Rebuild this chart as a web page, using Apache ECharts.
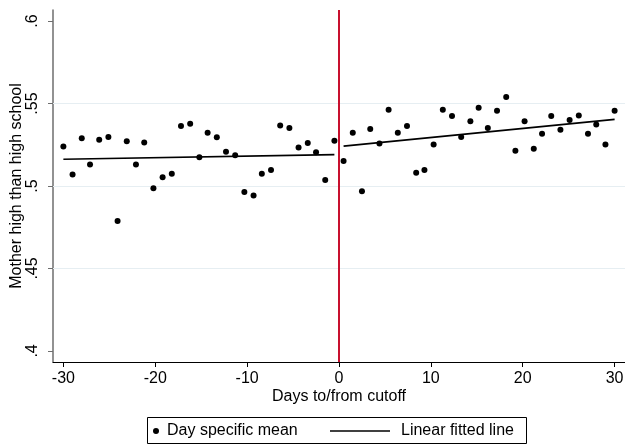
<!DOCTYPE html>
<html>
<head>
<meta charset="utf-8">
<script src="https://cdn.jsdelivr.net/npm/echarts@6/dist/echarts.min.js"></script>
<style>html,body{margin:0;padding:0;background:#fff;}#c{width:625px;height:448px;}</style>
</head>
<body>
<div id="c"></div>
<script>
// ---- data ----
const xLeft = [-30, -29, -28, -27.1, -26.1, -25.1, -24.1, -23.1, -22.1, -21.2, -20.2, -19.2, -18.2, -17.2, -16.2, -15.2, -14.3, -13.3, -12.3, -11.3, -10.3, -9.3, -8.4, -7.4, -6.4, -5.4, -4.4, -3.4, -2.5, -1.5, -0.5];
const yLeft = [0.524, 0.5069, 0.529, 0.513, 0.528, 0.5297, 0.4788, 0.5272, 0.513, 0.5263, 0.4986, 0.5053, 0.5075, 0.5363, 0.5378, 0.5174, 0.5323, 0.5295, 0.5208, 0.5186, 0.4964, 0.4942, 0.5075, 0.5097, 0.5367, 0.5351, 0.5234, 0.526, 0.5204, 0.5036, 0.5275];
const xRight = [0.5, 1.5, 2.5, 3.4, 4.4, 5.4, 6.4, 7.4, 8.4, 9.3, 10.3, 11.3, 12.3, 13.3, 14.3, 15.2, 16.2, 17.2, 18.2, 19.2, 20.2, 21.2, 22.1, 23.1, 24.1, 25.1, 26.1, 27.1, 28, 29, 30];
const yRight = [0.5151, 0.5323, 0.4968, 0.5345, 0.5257, 0.5462, 0.5323, 0.5363, 0.5081, 0.5097, 0.5252, 0.5462, 0.5424, 0.5297, 0.5392, 0.5474, 0.5351, 0.5456, 0.5539, 0.5214, 0.5392, 0.5226, 0.5317, 0.5424, 0.5341, 0.54, 0.5428, 0.5317, 0.5373, 0.5251, 0.5456];
const fitLeftX = [-30, -0.5];
const fitLeftY = [0.5162, 0.519];
const fitRightX = [0.5, 30];
const fitRightY = [0.5242, 0.5404];
const xTicks = [-30, -20, -10, 0, 10, 20, 30];
const yTicks = [0.4, 0.45, 0.5, 0.55, 0.6];
const yGrid = [0.45, 0.5, 0.55];
const cutoff = 0;
const seriesNames = ['Day specific mean', 'Linear fitted line'];
const xTitle = 'Days to/from cutoff';
const yTitle = 'Mother high than high school';

const FONT = "'Liberation Sans', Arial, sans-serif";
const scatterData = xLeft.map((x, i) => [x, yLeft[i]]).concat(xRight.map((x, i) => [x, yRight[i]]));
const zip = (a, b) => a.map((v, i) => [v, b[i]]);
const yLbl = v => String(+v.toFixed(2)).replace(/^0\./, '.');

const chart = echarts.init(document.getElementById('c'), null, {renderer: 'canvas'});
chart.setOption({
  animation: false,
  backgroundColor: '#fff',
  grid: {left: 53, top: 10, right: 0, bottom: 86, containLabel: false, outerBoundsMode: 'none'},
  xAxis: {
    type: 'value', min: -31.13, max: 31.13,
    name: xTitle, nameLocation: 'middle', nameGap: 27, nameMoveOverlap: false,
    nameTextStyle: {fontFamily: FONT, fontSize: 16, color: '#000'},
    axisLine: {show: true, onZero: false, lineStyle: {color: '#000', width: 1}},
    axisTick: {show: true, length: 5, customValues: xTicks, lineStyle: {color: '#000'}},
    axisLabel: {customValues: xTicks, margin: 9, fontFamily: FONT, fontSize: 16, color: '#000'},
    splitLine: {show: false}
  },
  yAxis: {
    type: 'value', min: 0.3933, max: 0.6067,
    name: yTitle, nameLocation: 'middle', nameGap: 28, nameRotate: 90, nameMoveOverlap: false,
    nameTextStyle: {fontFamily: FONT, fontSize: 16, color: '#000'},
    axisLine: {show: true, onZero: false, lineStyle: {color: '#6e6e6e', width: 1.5}},
    axisTick: {show: true, length: 5, customValues: yTicks, lineStyle: {color: '#6e6e6e'}},
    axisLabel: {customValues: yTicks, rotate: 90, margin: 12, fontFamily: FONT, fontSize: 16, color: '#000', formatter: yLbl},
    splitLine: {show: false}
  },
  legend: [
    {data: [seriesNames[0]], left: 153, top: 423, padding: 0, icon: 'circle', itemWidth: 6, itemHeight: 6, selectedMode: false,
     textStyle: {fontFamily: FONT, fontSize: 16, color: '#000', padding: [0, 0, 0, 3]}},
    {data: [seriesNames[1]], left: 330, top: 423, padding: 0, icon: 'rect', itemWidth: 60, itemHeight: 1.5, selectedMode: false,
     itemStyle: {color: '#000'},
     textStyle: {fontFamily: FONT, fontSize: 16, color: '#000', padding: [0, 0, 0, 6]}}
  ],
  graphic: [{type: 'rect', shape: {x: 147.5, y: 417.5, width: 379, height: 26}, style: {fill: null, stroke: '#000', lineWidth: 1}, silent: true}],
  series: [
    {
      name: seriesNames[1], type: 'line', data: zip(fitLeftX, fitLeftY), showSymbol: false, symbol: 'none',
      lineStyle: {color: '#000', width: 1.6}, itemStyle: {color: '#000'}, z: 3,
      markLine: {silent: true, symbol: 'none', label: {show: false}, z: 1,
        lineStyle: {color: '#e6eef2', width: 1, type: 'solid'},
        data: yGrid.map(v => ({yAxis: v}))}
    },
    {
      name: seriesNames[1], type: 'line', data: zip(fitRightX, fitRightY), showSymbol: false, symbol: 'none',
      lineStyle: {color: '#000', width: 1.6}, itemStyle: {color: '#000'}, z: 3
    },
    {
      name: seriesNames[0], type: 'scatter', data: scatterData, symbol: 'circle', symbolSize: 6,
      itemStyle: {color: '#000', opacity: 1}, z: 4,
      markLine: {silent: true, symbol: 'none', label: {show: false},
        lineStyle: {color: '#c8102e', width: 2, type: 'solid'},
        data: [{xAxis: cutoff}]}
    }
  ]
});
</script>
</body>
</html>
